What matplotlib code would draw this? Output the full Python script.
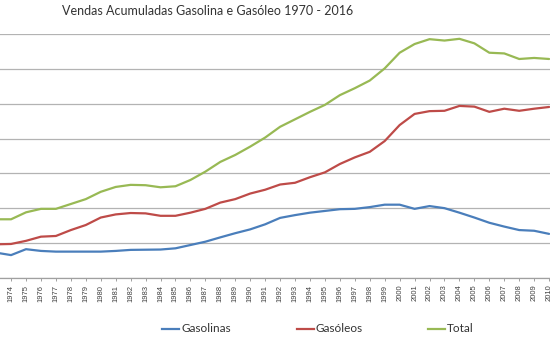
import matplotlib
matplotlib.use("Agg")
import matplotlib.pyplot as plt
from matplotlib.lines import Line2D

years = list(range(1973, 2011))
gasolinas = [720, 650, 820, 770, 750, 750, 750, 750, 770, 800,
             805, 810, 845, 940, 1035, 1160, 1280, 1390, 1535, 1720,
             1800, 1870, 1920, 1970, 1980, 2030, 2100, 2100, 1980, 2060,
             2000, 1870, 1730, 1580, 1470, 1370, 1350, 1260]
gasoleos = [960, 970, 1060, 1180, 1200, 1370, 1515, 1730, 1820, 1860,
            1850, 1780, 1780, 1870, 1980, 2160, 2260, 2420, 2530, 2680,
            2730, 2890, 3030, 3270, 3460, 3620, 3930, 4390, 4710, 4790,
            4800, 4940, 4920, 4770, 4860, 4800, 4860, 4910]
total = [1680, 1680, 1880, 1980, 1980, 2120, 2260, 2470, 2610, 2670,
         2660, 2600, 2630, 2810, 3050, 3330, 3530, 3770, 4030, 4340,
         4555, 4770, 4970, 5250, 5450, 5670, 6020, 6470, 6720, 6860,
         6820, 6870, 6740, 6470, 6450, 6290, 6320, 6290]
series_names = ["Gasolinas", "Gasóleos", "Total"]
title = "Vendas Acumuladas Gasolina e Gasóleo 1970 - 2016"

colors = ["#4A7EBB", "#BE4B48", "#98B954"]
W, H = 550, 343
fig = plt.figure(figsize=(W / 100, H / 100), dpi=100)
fig.patch.set_facecolor("white")

bottom_px, top_px = 277.7, 34.3
ax = fig.add_axes([0, 1 - bottom_px / H, 1, (bottom_px - top_px) / H])
ax.set_xlim(1973.26, 2010.06)
ax.set_ylim(0, 7000)

for vals, c in zip([gasolinas, gasoleos, total], colors):
    ax.plot(years, vals, color=c, lw=1.6, solid_capstyle="round", solid_joinstyle="round", zorder=3)

ax.set_yticks(range(0, 7001, 1000))
ax.yaxis.grid(True, color="#B3B3B3", lw=0.9)
ax.tick_params(axis="y", left=False, labelleft=False)
for s in ["top", "right", "left"]:
    ax.spines[s].set_visible(False)
ax.spines["bottom"].set_color("#A0A0A0")
ax.spines["bottom"].set_linewidth(0.9)

xt = [y for y in years if y >= 1974]
ax.set_xticks(xt)
ax.set_xticklabels([str(y) for y in xt], rotation=90, fontsize=5.5, color="#404040",
                   family="Liberation Sans")
ax.tick_params(axis="x", length=2.5, width=0.7, color="#A0A0A0", pad=2.5)
ax.set_facecolor("white")

fig.text(208 / W, 1 - 11 / H, title, ha="center", va="center", fontsize=9,
         family="Lato", color="#333333")

leg_y = 1 - 329 / H
for name, c, x0 in zip(series_names, colors, [162, 297, 428]):
    fig.add_artist(Line2D([x0 / W, (x0 + 17) / W], [leg_y, leg_y], color=c, lw=1.6,
                          transform=fig.transFigure))
    fig.text((x0 + 19) / W, leg_y, name, ha="left", va="center", fontsize=8.5,
             family="Lato", color="#333333")

fig.savefig("out.png", dpi=100)
